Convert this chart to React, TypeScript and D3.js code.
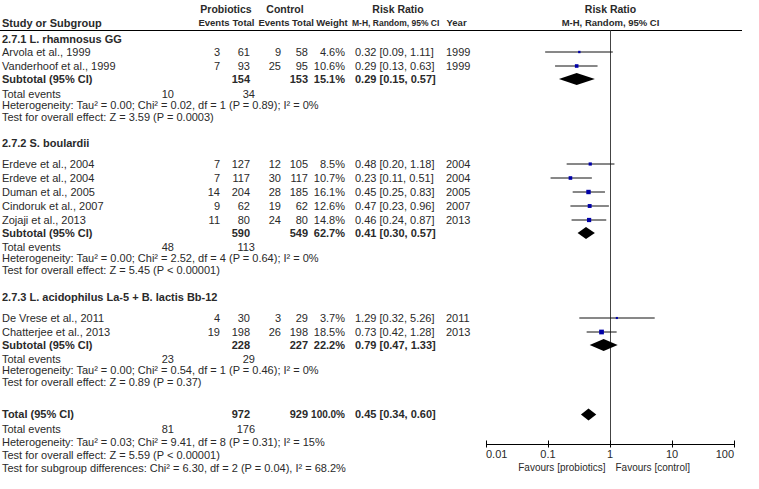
import React from "react";
import * as d3 from "d3";

// ---------- data ----------
const groupTitles = [
  "2.7.1 L. rhamnosus GG",
  "2.7.2 S. boulardii",
  "2.7.3 L. acidophilus La-5 + B. lactis Bb-12",
];
const studyGroup = [0, 0, 1, 1, 1, 1, 1, 2, 2];
const studyNames = [
  "Arvola et al., 1999",
  "Vanderhoof et al., 1999",
  "Erdeve et al., 2004",
  "Erdeve et al., 2004",
  "Duman et al., 2005",
  "Cindoruk et al., 2007",
  "Zojaji et al., 2013",
  "De Vrese et al., 2011",
  "Chatterjee et al., 2013",
];
const probEvents = [3, 7, 7, 7, 14, 9, 11, 4, 19];
const probTotal = [61, 93, 127, 117, 204, 62, 80, 30, 198];
const ctrlEvents = [9, 25, 12, 30, 28, 19, 24, 3, 26];
const ctrlTotal = [58, 95, 105, 117, 185, 62, 80, 29, 198];
const weights = [4.6, 10.6, 8.5, 10.7, 16.1, 12.6, 14.8, 3.7, 18.5];
const rr = [0.32, 0.29, 0.48, 0.23, 0.45, 0.47, 0.46, 1.29, 0.73];
const rrLo = [0.09, 0.13, 0.2, 0.11, 0.25, 0.23, 0.24, 0.32, 0.42];
const rrHi = [1.11, 0.63, 1.18, 0.51, 0.83, 0.96, 0.87, 5.26, 1.28];
const years = [1999, 1999, 2004, 2004, 2005, 2007, 2013, 2011, 2013];

const subProbTotal = [154, 590, 228];
const subCtrlTotal = [153, 549, 227];
const subWeight = ["15.1%", "62.7%", "22.2%"];
const subRR = [0.29, 0.41, 0.79];
const subLo = [0.15, 0.3, 0.47];
const subHi = [0.57, 0.57, 1.33];
const subProbEvents = [10, 48, 23];
const subCtrlEvents = [34, 113, 29];
const subHet = [
  "Heterogeneity: Tau² = 0.00; Chi² = 0.02, df = 1 (P = 0.89); I² = 0%",
  "Heterogeneity: Tau² = 0.00; Chi² = 2.52, df = 4 (P = 0.64); I² = 0%",
  "Heterogeneity: Tau² = 0.00; Chi² = 0.54, df = 1 (P = 0.46); I² = 0%",
];
const subTest = [
  "Test for overall effect: Z = 3.59 (P = 0.0003)",
  "Test for overall effect: Z = 5.45 (P < 0.00001)",
  "Test for overall effect: Z = 0.89 (P = 0.37)",
];

const totProbTotal = 972;
const totCtrlTotal = 929;
const totWeight = "100.0%";
const totRR = 0.45;
const totLo = 0.34;
const totHi = 0.6;
const totProbEvents = 81;
const totCtrlEvents = 176;
const totHet = "Heterogeneity: Tau² = 0.03; Chi² = 9.41, df = 8 (P = 0.31); I² = 15%";
const totTest = "Test for overall effect: Z = 5.59 (P < 0.00001)";
const subgroupTest = "Test for subgroup differences: Chi² = 6.30, df = 2 (P = 0.04), I² = 68.2%";

const axisTicks = [0.01, 0.1, 1, 10, 100];
const favourLeft = "Favours [probiotics]";
const favourRight = "Favours [control]";

// ---------- layout ----------
const W = 759;
const H = 489;
const FONT = "'Liberation Sans', Arial, sans-serif";
const FS = 11;
const TXT = "#2a2a2a";

const col = {
  name: 2,
  pe: 220,
  pt: 250,
  ce: 281,
  ct: 308,
  w: 345,
  rr: 355,
  yr: 446,
  teP: 174,
  teC: 255,
};

const fmt2 = (v: number) => v.toFixed(2);
const ciText = (r: number, l: number, h: number) => `${fmt2(r)} [${fmt2(l)}, ${fmt2(h)}]`;

type Row = { kind: string; y: number; i?: number; g?: number };

function buildRows(): Row[] {
  const rows: Row[] = [];
  let y = 39;
  for (let g = 0; g < groupTitles.length; g++) {
    rows.push({ kind: "title", y, g });
    y += g === 0 ? 13 : 21;
    const idx = studyGroup.map((sg, i) => (sg === g ? i : -1)).filter((i) => i >= 0);
    idx.forEach((i) => {
      rows.push({ kind: "study", y, i });
      y += 14;
    });
    y -= 1;
    rows.push({ kind: "subtotal", y, g });
    y += g === 0 ? 15.5 : 14.5;
    rows.push({ kind: "events", y, g });
    y += 11;
    rows.push({ kind: "het", y, g });
    y += 11.5;
    rows.push({ kind: "test", y, g });
    y += g === 0 ? 26 : g < groupTitles.length - 1 ? 27 : 32.5;
  }
  rows.push({ kind: "total", y });
  y += 15;
  rows.push({ kind: "totEvents", y });
  y += 13;
  rows.push({ kind: "totHet", y });
  y += 13;
  rows.push({ kind: "totTest", y });
  y += 13;
  rows.push({ kind: "subgroup", y });
  return rows;
}

export default function App() {
  const x = d3.scaleLog().domain([0.01, 100]).range([486, 734]);
  const rows = buildRows();
  const lineY = 30.5;
  const axisY = 444.5;
  const x1 = Math.round(x(1)) + 0.5;

  const T = (props: any) => (
    <text fontFamily={FONT} fontSize={FS} fill={TXT} dy="0.35em" {...props} />
  );

  const diamond = (y: number, r: number, l: number, h: number) => (
    <path
      d={`M${x(l)},${y} L${x(r)},${y - 6} L${x(h)},${y} L${x(r)},${y + 6} Z`}
      fill="#000"
    />
  );

  const els: any[] = [];
  rows.forEach((row, k) => {
    const y = row.y;
    if (row.kind === "title") {
      els.push(<T key={k} x={col.name} y={y} fontWeight="bold">{groupTitles[row.g!]}</T>);
    } else if (row.kind === "study") {
      const i = row.i!;
      const s = 1.1 * Math.sqrt(weights[i]);
      els.push(
        <g key={k}>
          <T x={col.name} y={y}>{studyNames[i]}</T>
          <T x={col.pe} y={y} textAnchor="end">{probEvents[i]}</T>
          <T x={col.pt} y={y} textAnchor="end">{probTotal[i]}</T>
          <T x={col.ce} y={y} textAnchor="end">{ctrlEvents[i]}</T>
          <T x={col.ct} y={y} textAnchor="end">{ctrlTotal[i]}</T>
          <T x={col.w} y={y} textAnchor="end">{weights[i].toFixed(1) + "%"}</T>
          <T x={col.rr} y={y}>{ciText(rr[i], rrLo[i], rrHi[i])}</T>
          <T x={col.yr} y={y}>{years[i]}</T>
          <line x1={x(rrLo[i])} x2={x(rrHi[i])} y1={y} y2={y} stroke="#111" strokeWidth={1} />
          <rect x={x(rr[i]) - s / 2} y={y - s / 2} width={s} height={s} fill="#0000a8" />
        </g>
      );
    } else if (row.kind === "subtotal") {
      const g = row.g!;
      els.push(
        <g key={k}>
          <T x={col.name} y={y} fontWeight="bold">Subtotal (95% CI)</T>
          <T x={col.pt} y={y} textAnchor="end" fontWeight="bold">{subProbTotal[g]}</T>
          <T x={col.ct} y={y} textAnchor="end" fontWeight="bold">{subCtrlTotal[g]}</T>
          <T x={col.w} y={y} textAnchor="end" fontWeight="bold">{subWeight[g]}</T>
          <T x={col.rr} y={y} fontWeight="bold">{ciText(subRR[g], subLo[g], subHi[g])}</T>
          {diamond(y, subRR[g], subLo[g], subHi[g])}
        </g>
      );
    } else if (row.kind === "events") {
      const g = row.g!;
      els.push(
        <g key={k}>
          <T x={col.name} y={y}>Total events</T>
          <T x={col.teP} y={y} textAnchor="end">{subProbEvents[g]}</T>
          <T x={col.teC} y={y} textAnchor="end">{subCtrlEvents[g]}</T>
        </g>
      );
    } else if (row.kind === "het") {
      els.push(<T key={k} x={col.name} y={y}>{subHet[row.g!]}</T>);
    } else if (row.kind === "test") {
      els.push(<T key={k} x={col.name} y={y}>{subTest[row.g!]}</T>);
    } else if (row.kind === "total") {
      els.push(
        <g key={k}>
          <T x={col.name} y={y} fontWeight="bold">Total (95% CI)</T>
          <T x={col.pt} y={y} textAnchor="end" fontWeight="bold">{totProbTotal}</T>
          <T x={col.ct} y={y} textAnchor="end" fontWeight="bold">{totCtrlTotal}</T>
          <T x={col.w} y={y} textAnchor="end" fontWeight="bold" fontSize={10}>{totWeight}</T>
          <T x={col.rr} y={y} fontWeight="bold">{ciText(totRR, totLo, totHi)}</T>
          {diamond(y, totRR, totLo, totHi)}
        </g>
      );
    } else if (row.kind === "totEvents") {
      els.push(
        <g key={k}>
          <T x={col.name} y={y}>Total events</T>
          <T x={col.teP} y={y} textAnchor="end">{totProbEvents}</T>
          <T x={col.teC} y={y} textAnchor="end">{totCtrlEvents}</T>
        </g>
      );
    } else if (row.kind === "totHet") {
      els.push(<T key={k} x={col.name} y={y}>{totHet}</T>);
    } else if (row.kind === "totTest") {
      els.push(<T key={k} x={col.name} y={y}>{totTest}</T>);
    } else if (row.kind === "subgroup") {
      els.push(<T key={k} x={col.name} y={y}>{subgroupTest}</T>);
    }
  });

  const HF = 9.5;

  return (
    <svg
      width={W}
      height={H}
      style={{ position: "absolute", left: 0, top: 0, background: "#fff" }}
    >
      <rect width={W} height={H} fill="#fff" />
      {/* header row 1 */}
      <g fontWeight="bold">
        <T x={226} y={9} textAnchor="middle" fontSize={10.5}>Probiotics</T>
        <T x={285} y={9} textAnchor="middle" fontSize={10.5}>Control</T>
        <T x={398} y={9} textAnchor="middle" fontSize={10.5}>Risk Ratio</T>
        <T x={x1} y={9} textAnchor="middle" fontSize={10.5}>Risk Ratio</T>
        {/* header row 2 */}
        <T x={col.name} y={23}>Study or Subgroup</T>
        <T x={214} y={23} textAnchor="middle" fontSize={HF}>Events</T>
        <T x={243.5} y={23} textAnchor="middle" fontSize={HF}>Total</T>
        <T x={274} y={23} textAnchor="middle" fontSize={HF}>Events</T>
        <T x={303} y={23} textAnchor="middle" fontSize={HF}>Total</T>
        <T x={332} y={23} textAnchor="middle" fontSize={HF}>Weight</T>
        <T x={352} y={23} fontSize={8.5}>M-H, Random, 95% CI</T>
        <T x={446.5} y={23} fontSize={HF}>Year</T>
        <T x={x1} y={23} textAnchor="middle" fontSize={HF}>M-H, Random, 95% CI</T>
      </g>
      <line x1={0} x2={742} y1={lineY} y2={lineY} stroke="#000" strokeWidth={1} />
      {/* null line */}
      <line x1={x1} x2={x1} y1={lineY} y2={axisY} stroke="#444" strokeWidth={1} />
      {els}
      {/* axis */}
      <line x1={x(0.01)} x2={x(100)} y1={axisY} y2={axisY} stroke="#000" strokeWidth={1} />
      {axisTicks.map((t, i) => (
        <g key={t}>
          <line
            x1={Math.round(x(t)) + 0.5}
            x2={Math.round(x(t)) + 0.5}
            y1={axisY - 4}
            y2={axisY + 3}
            stroke="#000"
          />
          <T
            x={x(t)}
            y={454.5}
            textAnchor={i === 0 ? "start" : i === axisTicks.length - 1 ? "end" : "middle"}
          >
            {String(t)}
          </T>
        </g>
      ))}
      <T x={x1 - 5} y={467.5} textAnchor="end" fontSize={10}>{favourLeft}</T>
      <T x={x1 + 5} y={467.5} fontSize={10}>{favourRight}</T>
    </svg>
  );
}
